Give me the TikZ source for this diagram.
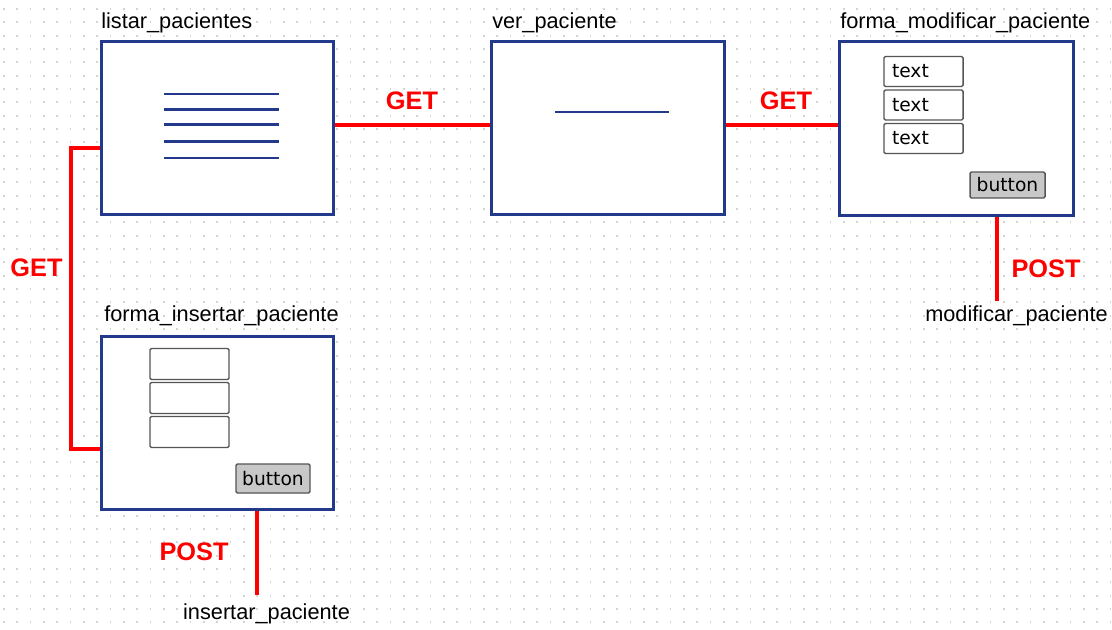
\documentclass[tikz,border=0pt]{standalone}
\usepackage{fontspec}
\setmainfont{Liberation Sans}
\newfontfamily\widgetfont{DejaVu Sans}
\definecolor{screenblue}{RGB}{35,58,140}
\definecolor{linkred}{RGB}{255,0,0}
\definecolor{dotgrey}{RGB}{212,212,212}
\definecolor{widgetgrey}{RGB}{85,85,85}
\definecolor{buttonfill}{RGB}{200,200,200}
\tikzset{
  screen/.style={draw=screenblue, line width=2.25pt, fill=white, inner sep=0pt},
  pagename/.style={font=\fontsize{16.3}{19}\selectfont, inner sep=0pt, anchor=base west},
  actionname/.style={font=\fontsize{16.3}{19}\selectfont, inner sep=0pt, anchor=base},
  method/.style={font=\fontsize{19}{22}\bfseries\selectfont, text=linkred, inner sep=0pt},
  link/.style={draw=linkred, line width=3pt},
  listline/.style={draw=screenblue, line width=2pt},
  field/.style={draw=widgetgrey, line width=1.1pt, rounded corners=1pt, fill=white,
    minimum width=59.25pt, inner xsep=6pt, inner ysep=0pt, text width=47.25pt, align=left,
    font=\widgetfont\fontsize{14}{16}\selectfont},
  button/.style={draw=widgetgrey, line width=1.1pt, rounded corners=1pt, fill=buttonfill,
    inner sep=0pt, font=\widgetfont\fontsize{14}{16}\selectfont}
}
\begin{document}
\begin{tikzpicture}[x=0.75pt,y=-0.75pt]
\useasboundingbox (0,0) rectangle (1112,629);
\fill[white] (0,0) rectangle (1112,629);
% dotted background grid
\foreach \j in {0,...,46}
  \draw[dotgrey, line width=1.3pt, dash pattern=on 1.3pt off 8.7pt]
    (3,{9+13.333*\j}) -- (1112,{9+13.333*\j});

% screens
\node[screen, minimum width=174pt, minimum height=129.75pt] (listar) at (217,127.5) {};
\node[screen, minimum width=174.75pt, minimum height=129.75pt] (ver) at (607.5,127.5) {};
\node[screen, minimum width=175.5pt, minimum height=130.5pt] (modificar) at (956,128) {};
\node[screen, minimum width=174pt, minimum height=129.75pt] (insertar) at (217,422.5) {};

% screen names
\node[pagename] (tlistar) at (101,28) {listar\_pacientes};
\node[pagename] (tver) at (492,28) {ver\_paciente};
\node[pagename] (tmodificar) at (840,28) {forma\_modificar\_paciente};
\node[pagename] (tinsertar) at (104,321) {forma\_insertar\_paciente};

% list contents
\foreach \y in {94,109.5,124.5,141.5,158}
  \draw[listline] (164,\y) -- (279,\y);
% detail contents
\draw[listline] (555,112) -- (669,112);

% edit form widgets
\node[field, minimum height=22.5pt] (mf1) at (923.5,71.5) {text};
\node[field, minimum height=22.5pt] (mf2) at (923.5,105) {text};
\node[field, minimum height=22.5pt] (mf3) at (923.5,138.5) {text};
\node[button, minimum width=56.25pt, minimum height=19.5pt] (mbtn) at (1007.5,185) {button};

% insert form widgets
\node[field, minimum height=23.25pt] (if1) at (189.5,364) {};
\node[field, minimum height=23.25pt] (if2) at (189.5,398) {};
\node[field, minimum height=23.25pt] (if3) at (189.5,432) {};
\node[button, minimum width=55.5pt, minimum height=21.75pt] (ibtn) at (273,478.5) {button};

% links between screens
\draw[link] ([yshift=1.9pt]listar.east) -- ([yshift=1.9pt]listar.east -| ver.west);
\draw[link] ([yshift=2pt]ver.east) -- ([yshift=2pt]ver.east -| modificar.west);
\draw[link] ([yshift=-15.4pt]listar.west) -- ++(-29,0) |- ([yshift=-19.9pt]insertar.west);

% form submissions
\coordinate (modend) at (997,301);
\coordinate (insend) at (257,595);
\draw[link] (modificar.south -| modend) -- (modend);
\draw[link] (insertar.south -| insend) -- (insend);

% methods
\node[method] (get1) at (412,101) {GET};
\node[method] (get2) at (786,101) {GET};
\node[method] (get3) at (36.5,268) {GET};
\node[method] (post1) at (1046,269) {POST};
\node[method] (post2) at (194,552) {POST};

% actions
\node[actionname] (amod) at (1016.5,321.5) {modificar\_paciente};
\node[actionname] (ains) at (266.5,619) {insertar\_paciente};
\end{tikzpicture}
\end{document}
